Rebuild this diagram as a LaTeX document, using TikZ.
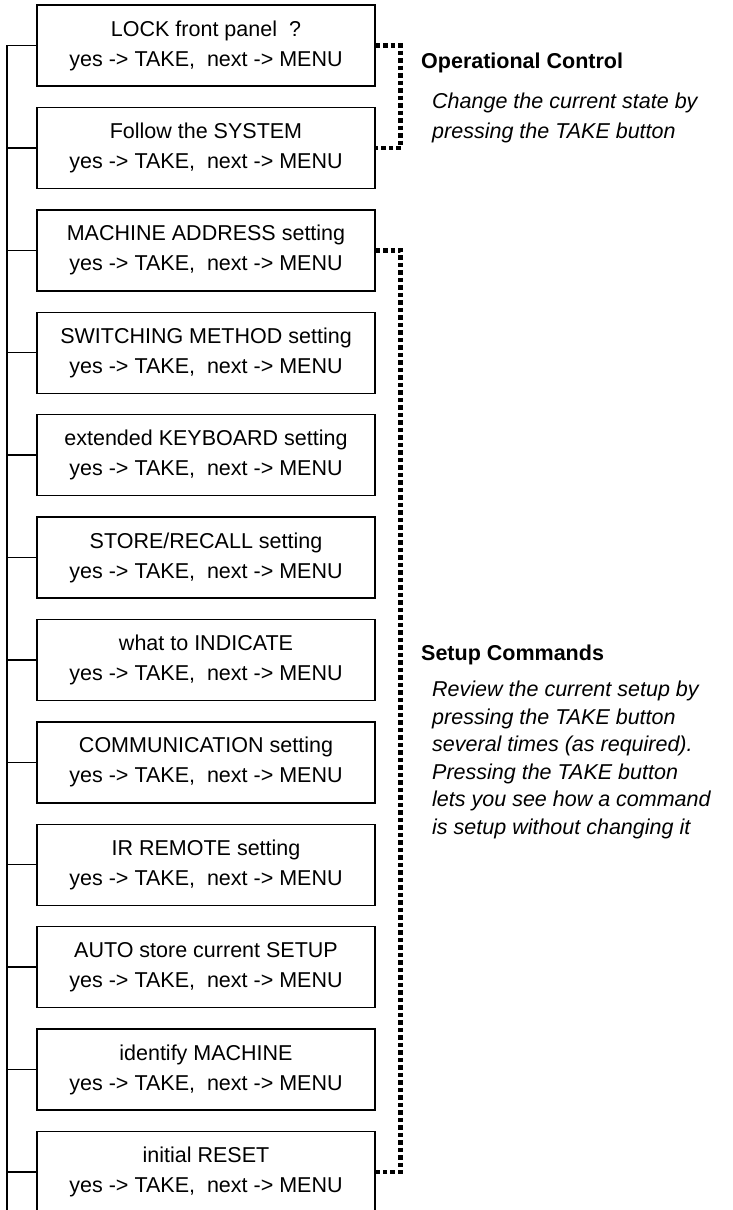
\documentclass[tikz,border=0pt]{standalone}
\usepackage{fontspec}
\setmainfont{Liberation Sans}

\begin{document}
\begin{tikzpicture}[x=1pt, y=-1pt,
  menubox/.style={draw, line width=1.4pt, minimum width=338pt,
    minimum height=81pt, inner sep=0pt, align=center,
    font=\fontsize{21.5}{30}\selectfont},
  tree/.style={line width=1.4pt},
  bracket/.style={line width=4.5pt, dash pattern=on 4.5pt off 3pt},
  heading/.style={font=\fontsize{21.5}{26}\selectfont\bfseries,
    inner sep=0pt, anchor=base west},
  note/.style={font=\fontsize{21.5}{27.5}\selectfont\itshape,
    inner sep=0pt, align=left, anchor=base west}]

  \useasboundingbox (0,0) rectangle (732,1210);

  % Menu entries, one box each
  \def\pitch{102.4}
  \foreach \i/\entry in {1/{LOCK front panel\ \ ?}, 2/{Follow the SYSTEM},
      3/{MACHINE ADDRESS setting}, 4/{SWITCHING METHOD setting},
      5/{extended KEYBOARD setting}, 6/{STORE/RECALL setting},
      7/{what to INDICATE}, 8/{COMMUNICATION setting},
      9/{IR REMOTE setting}, 10/{AUTO store current SETUP},
      11/{identify MACHINE}, 12/{initial RESET}}
    \node[menubox] (b\i) at (206, {45.5+\pitch*(\i-1)})
      {\entry\\yes -> TAKE,\ \ next -> MENU};

  % Left spine with a tick into every box
  \coordinate (spine end) at (7,1210);
  \draw[tree] (b1.west) -| (spine end);
  \foreach \i in {2,...,12}
    \draw[tree] (b\i.west) -- (b\i.west -| spine end);

  % Dotted brackets grouping the entries
  \draw[bracket] (b1.east) -- ++(25,0) |- (b2.east);
  \draw[bracket] (b3.east) -- ++(25,0) |- (b12.east);

  % Group captions (notes sit on the baseline of their last line)
  \node[heading] (opctl) at (421,68) {Operational Control};
  \node[note, font=\fontsize{21.5}{30}\selectfont\itshape] (opnote)
    at (432,138) {Change the current state by\\pressing the TAKE button};
  \node[heading] (setup) at (421,660) {Setup Commands};
  \node[note] (setupnote) at (432,834)
    {Review the current setup by\\pressing the TAKE button\\
     several times (as required).\\Pressing the TAKE button\\
     lets you see how a command\\is setup without changing it};
\end{tikzpicture}
\end{document}
